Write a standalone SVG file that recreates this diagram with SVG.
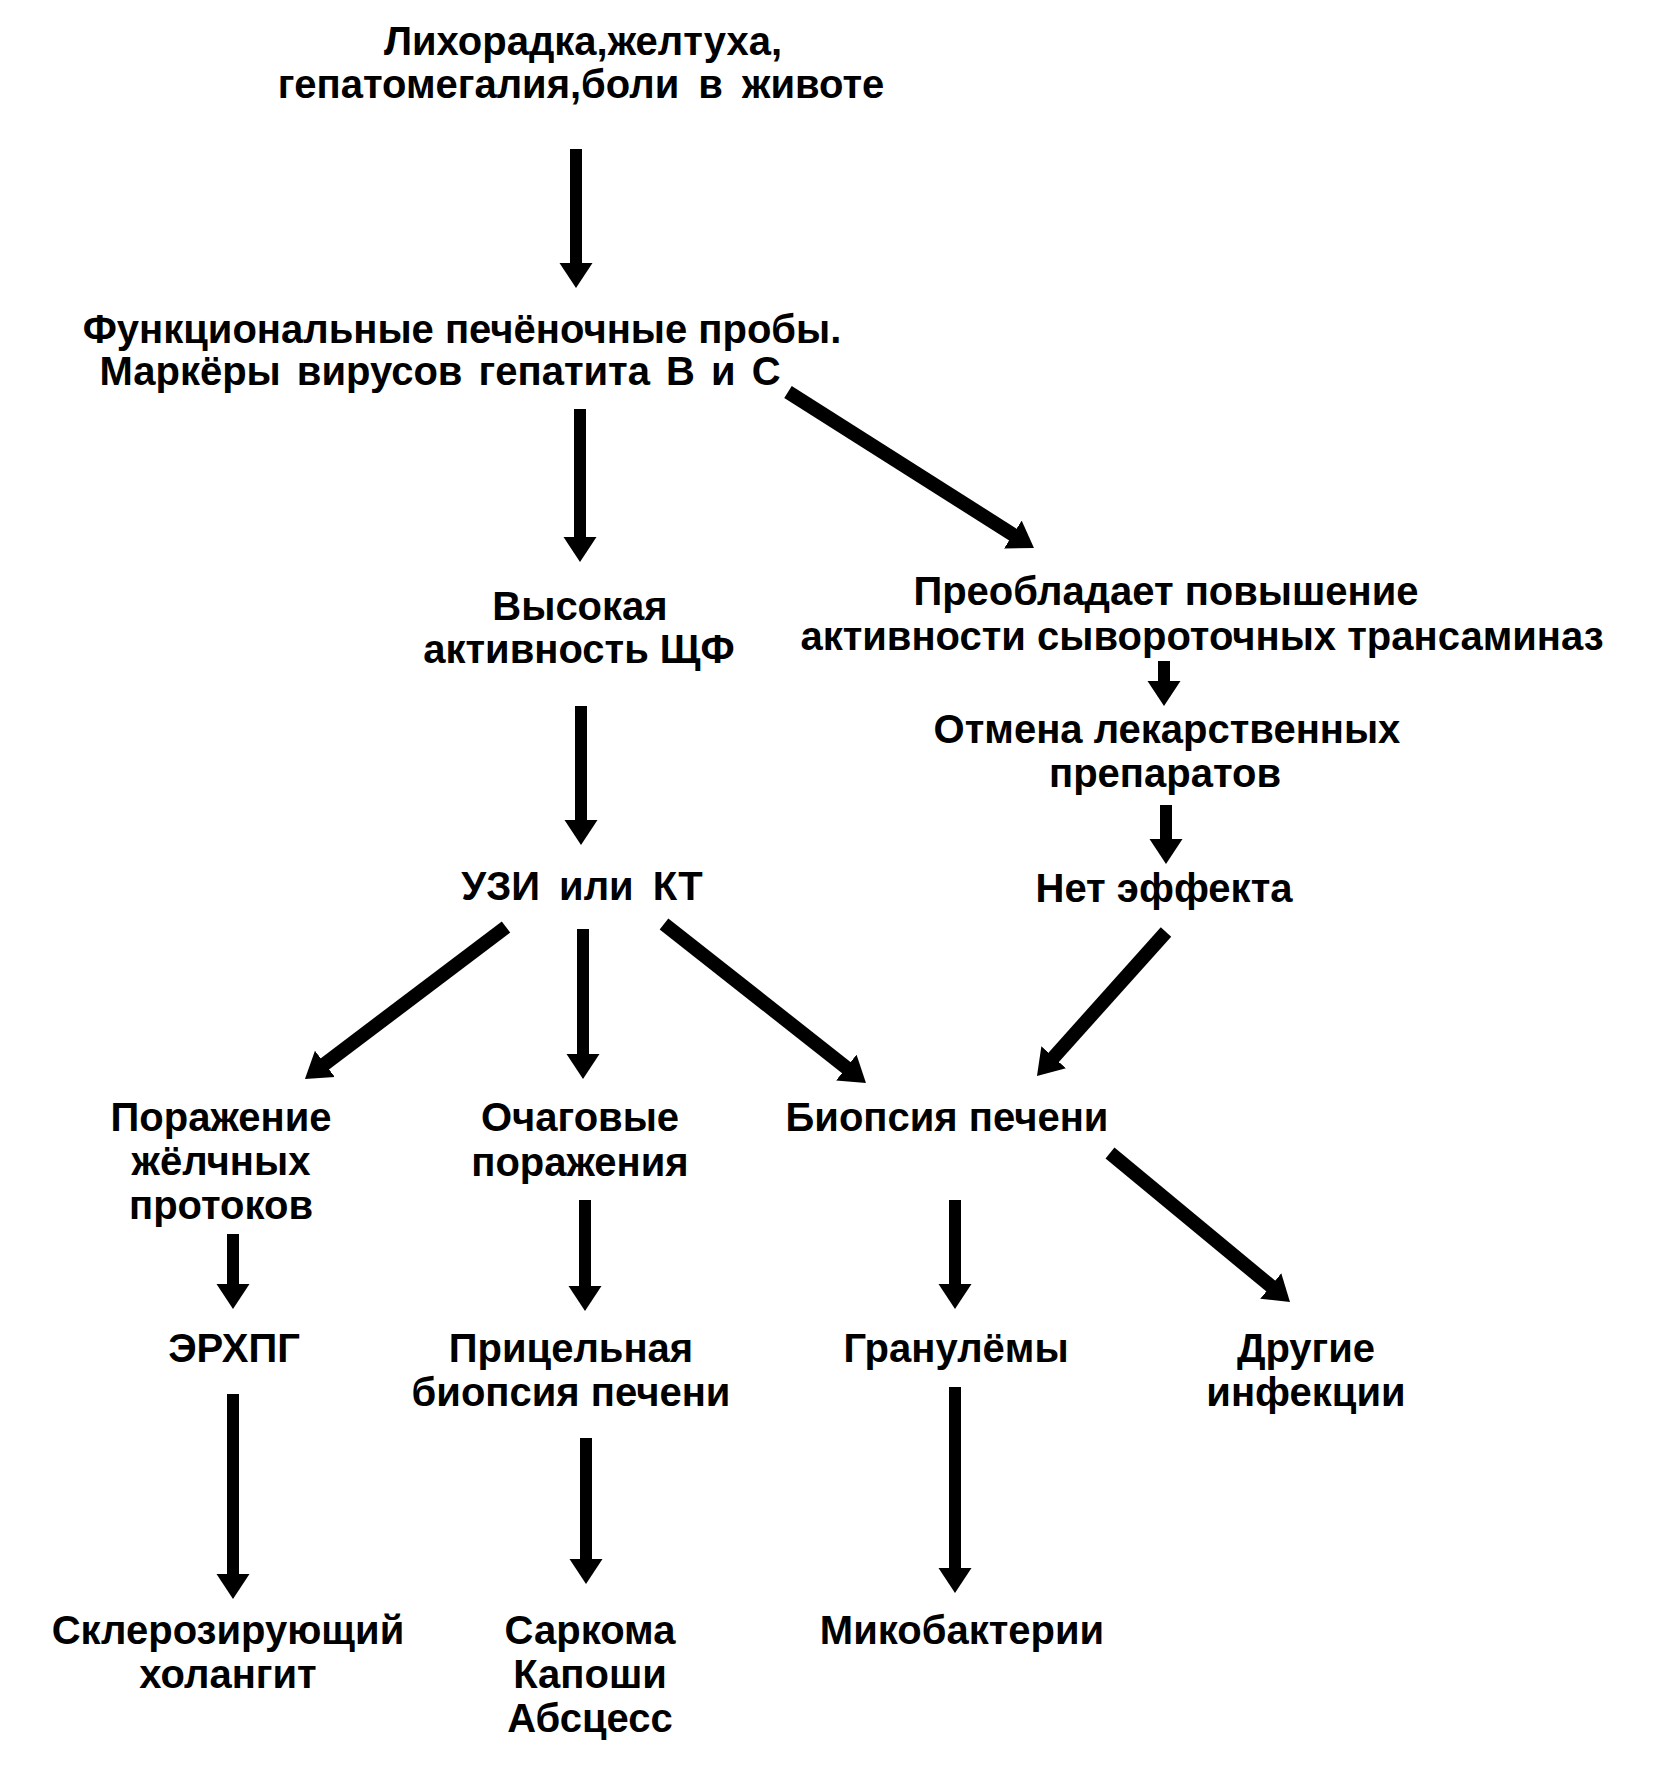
<svg xmlns="http://www.w3.org/2000/svg" width="1655" height="1765" viewBox="0 0 1655 1765">
<style>
text{font-family:"Liberation Sans",Arial,sans-serif;font-weight:bold;font-size:40px;fill:#000;text-anchor:middle}
.c{stroke:#000;stroke-width:12;fill:none;marker-end:url(#ah)}
.d{stroke-width:14}
</style>
<defs>
<marker id="ah" markerUnits="userSpaceOnUse" markerWidth="26" markerHeight="34" viewBox="0 -17 26 34" refX="1" refY="0" orient="auto">
<path d="M0,-16.5 L25,0 L0,16.5 Z" fill="#000"/>
</marker>
</defs>
<rect width="1655" height="1765" fill="#fff"/>
<g id="connectors">
<line class="c" x1="576" y1="149" x2="576" y2="264"/>
<line class="c" x1="580" y1="409" x2="580" y2="538"/>
<line class="c d" x1="788" y1="392" x2="1013.7" y2="535.1"/>
<line class="c" x1="1164" y1="661" x2="1164" y2="682"/>
<line class="c" x1="1166" y1="805" x2="1166" y2="840"/>
<line class="c" x1="581" y1="706" x2="581" y2="821"/>
<line class="c d" x1="506" y1="927" x2="324.1" y2="1064.5"/>
<line class="c" x1="583" y1="929" x2="583" y2="1055"/>
<line class="c d" x1="664" y1="924" x2="847.1" y2="1068.2"/>
<line class="c d" x1="1166" y1="932" x2="1053" y2="1058.1"/>
<line class="c" x1="233" y1="1234" x2="233" y2="1285"/>
<line class="c" x1="585" y1="1200" x2="585" y2="1287"/>
<line class="c" x1="955" y1="1200" x2="955" y2="1285"/>
<line class="c d" x1="1110" y1="1153" x2="1271.5" y2="1286.7"/>
<line class="c" x1="233" y1="1394" x2="233" y2="1575"/>
<line class="c" x1="586" y1="1438" x2="586" y2="1560"/>
<line class="c" x1="955" y1="1387" x2="955" y2="1569"/>
</g>
<g id="n-symptoms"><text x="583" y="55">Лихорадка,желтуха,</text><text x="581" y="98" word-spacing="8">гепатомегалия,боли в животе</text></g>
<g id="n-tests"><text x="462" y="343">Функциональные печёночные пробы.</text><text x="440" y="385" word-spacing="5">Маркёры вирусов гепатита В и С</text></g>
<g id="n-alp"><text x="580" y="620">Высокая</text><text x="579" y="663">активность ЩФ</text></g>
<g id="n-trans"><text x="1166" y="605">Преобладает повышение</text><text x="1202" y="650">активности сывороточных трансаминаз</text></g>
<g id="n-stop"><text x="1167" y="743">Отмена лекарственных</text><text x="1165" y="787">препаратов</text></g>
<g id="n-noeffect"><text x="1164" y="902">Нет эффекта</text></g>
<g id="n-us"><text x="582" y="900" word-spacing="8">УЗИ или КТ</text></g>
<g id="n-ducts"><text x="221" y="1131">Поражение</text><text x="221" y="1175">жёлчных</text><text x="221" y="1219">протоков</text></g>
<g id="n-focal"><text x="580" y="1131">Очаговые</text><text x="580" y="1176">поражения</text></g>
<g id="n-biopsy"><text x="947" y="1131">Биопсия печени</text></g>
<g id="n-ercp"><text x="234" y="1362">ЭРХПГ</text></g>
<g id="n-target"><text x="571" y="1362">Прицельная</text><text x="571" y="1406">биопсия печени</text></g>
<g id="n-gran"><text x="956" y="1362">Гранулёмы</text></g>
<g id="n-other"><text x="1306" y="1362">Другие</text><text x="1306" y="1406">инфекции</text></g>
<g id="n-scler"><text x="228" y="1644">Склерозирующий</text><text x="228" y="1688">холангит</text></g>
<g id="n-kaposi"><text x="590" y="1644">Саркома</text><text x="590" y="1688">Капоши</text><text x="590" y="1732">Абсцесс</text></g>
<g id="n-myco"><text x="962" y="1644">Микобактерии</text></g>
</svg>
